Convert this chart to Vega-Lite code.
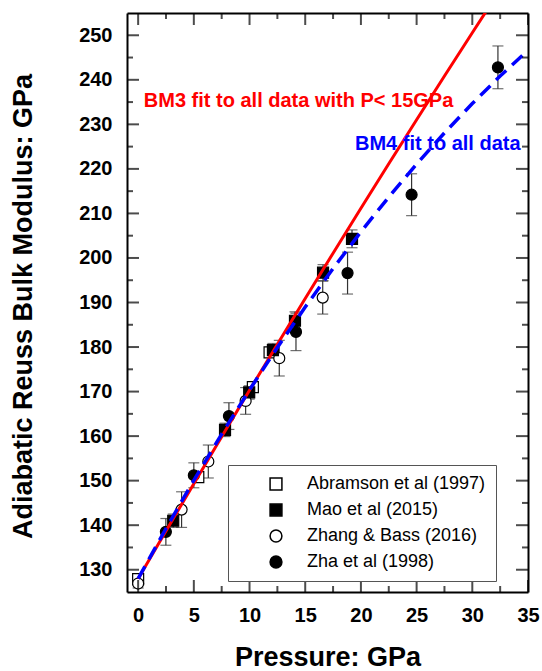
{
  "$schema": "https://vega.github.io/schema/vega-lite/v6.json",
  "width": 401,
  "height": 579,
  "autosize": {"type": "none"},
  "padding": {"left": 127, "top": 13, "right": 14, "bottom": 79},
  "background": "white",
  "config": {
    "font": "Liberation Sans",
    "view": {"stroke": null},
    "axis": {
      "grid": false,
      "domainColor": "black",
      "domainWidth": 2,
      "labelFont": "Liberation Sans",
      "labelFontSize": 20,
      "labelFontWeight": "bold",
      "labelColor": "black",
      "titleFont": "Liberation Sans",
      "titleFontSize": 27,
      "titleFontWeight": "bold",
      "titleColor": "black",
      "labelFlush": false,
      "labelOverlap": false,
      "labelBound": false
    }
  },
  "datasets": {
    "pts": [
      {"P": 0, "K": 127.9, "src": "Abramson et al (1997)", "lo": null, "hi": null},
      {"P": 5.4, "K": 150.8, "src": "Abramson et al (1997)", "lo": null, "hi": null},
      {"P": 10.3, "K": 171.0, "src": "Abramson et al (1997)", "lo": null, "hi": null},
      {"P": 11.8, "K": 178.8, "src": "Abramson et al (1997)", "lo": null, "hi": null},
      {"P": 0, "K": 126.9, "src": "Zhang & Bass (2016)", "lo": 125.9, "hi": 127.9},
      {"P": 3.9, "K": 143.5, "src": "Zhang & Bass (2016)", "lo": 139.5, "hi": 147.5},
      {"P": 6.3, "K": 154.3, "src": "Zhang & Bass (2016)", "lo": 150.6, "hi": 158.0},
      {"P": 9.65, "K": 167.9, "src": "Zhang & Bass (2016)", "lo": 164.9, "hi": 170.9},
      {"P": 12.67, "K": 177.5, "src": "Zhang & Bass (2016)", "lo": 173.5, "hi": 181.5},
      {"P": 16.57, "K": 191.1, "src": "Zhang & Bass (2016)", "lo": 187.4, "hi": 194.8},
      {"P": 3.15, "K": 141.0, "src": "Mao et al (2015)", "lo": 139.5, "hi": 142.5},
      {"P": 7.8, "K": 161.4, "src": "Mao et al (2015)", "lo": 159.9, "hi": 162.9},
      {"P": 9.97, "K": 169.8, "src": "Mao et al (2015)", "lo": 168.3, "hi": 171.3},
      {"P": 12.1, "K": 179.3, "src": "Mao et al (2015)", "lo": 177.8, "hi": 180.8},
      {"P": 14.08, "K": 185.9, "src": "Mao et al (2015)", "lo": 183.9, "hi": 187.9},
      {"P": 16.6, "K": 196.7, "src": "Mao et al (2015)", "lo": 194.9, "hi": 198.5},
      {"P": 19.2, "K": 204.3, "src": "Mao et al (2015)", "lo": 202.3, "hi": 206.3},
      {"P": 2.49, "K": 138.5, "src": "Zha et al (1998)", "lo": 135.5, "hi": 141.5},
      {"P": 5.0, "K": 151.2, "src": "Zha et al (1998)", "lo": 148.4, "hi": 154.0},
      {"P": 8.15, "K": 164.5, "src": "Zha et al (1998)", "lo": 161.5, "hi": 167.5},
      {"P": 14.17, "K": 183.4, "src": "Zha et al (1998)", "lo": 179.2, "hi": 187.6},
      {"P": 18.8, "K": 196.6, "src": "Zha et al (1998)", "lo": 191.9, "hi": 201.3},
      {"P": 24.55, "K": 214.2, "src": "Zha et al (1998)", "lo": 209.5, "hi": 218.9},
      {"P": 32.3, "K": 242.8, "src": "Zha et al (1998)", "lo": 238.0, "hi": 247.6}
    ],
    "fits": [
      {"P": 0, "K": 128.0, "fit": "BM3"},
      {"P": 2.5, "K": 138.71, "fit": "BM3"},
      {"P": 5, "K": 149.33, "fit": "BM3"},
      {"P": 7.5, "K": 159.86, "fit": "BM3"},
      {"P": 10, "K": 170.29, "fit": "BM3"},
      {"P": 12.5, "K": 180.64, "fit": "BM3"},
      {"P": 15, "K": 190.9, "fit": "BM3"},
      {"P": 17.5, "K": 201.07, "fit": "BM3"},
      {"P": 20, "K": 211.15, "fit": "BM3"},
      {"P": 22.5, "K": 221.14, "fit": "BM3"},
      {"P": 25, "K": 231.04, "fit": "BM3"},
      {"P": 27.5, "K": 240.85, "fit": "BM3"},
      {"P": 30, "K": 250.57, "fit": "BM3"},
      {"P": 32, "K": 258.28, "fit": "BM3"},
      {"P": 0, "K": 128.0, "fit": "BM4"},
      {"P": 2.5, "K": 139.26, "fit": "BM4"},
      {"P": 5, "K": 150.08, "fit": "BM4"},
      {"P": 7.5, "K": 160.46, "fit": "BM4"},
      {"P": 10, "K": 170.4, "fit": "BM4"},
      {"P": 12.5, "K": 179.9, "fit": "BM4"},
      {"P": 15, "K": 188.98, "fit": "BM4"},
      {"P": 17.5, "K": 197.64, "fit": "BM4"},
      {"P": 20, "K": 205.87, "fit": "BM4"},
      {"P": 22.5, "K": 213.68, "fit": "BM4"},
      {"P": 25, "K": 221.08, "fit": "BM4"},
      {"P": 27.5, "K": 228.08, "fit": "BM4"},
      {"P": 30, "K": 234.66, "fit": "BM4"},
      {"P": 32.5, "K": 240.84, "fit": "BM4"},
      {"P": 35, "K": 246.63, "fit": "BM4"}
    ],
    "notes": [
      {"P": 0.51, "K": 235.2, "text": "BM3 fit to all data with P< 15GPa", "fit": "BM3"},
      {"P": 19.47, "K": 225.6, "text": "BM4 fit to all data", "fit": "BM4"}
    ],
    "xt": [
      {"v": 0}, {"v": 2.5}, {"v": 5}, {"v": 7.5}, {"v": 10}, {"v": 12.5}, {"v": 15}, {"v": 17.5},
      {"v": 20}, {"v": 22.5}, {"v": 25}, {"v": 27.5}, {"v": 30}, {"v": 32.5}, {"v": 35}
    ],
    "yt": [
      {"v": 130}, {"v": 135}, {"v": 140}, {"v": 145}, {"v": 150}, {"v": 155}, {"v": 160}, {"v": 165},
      {"v": 170}, {"v": 175}, {"v": 180}, {"v": 185}, {"v": 190}, {"v": 195}, {"v": 200}, {"v": 205},
      {"v": 210}, {"v": 215}, {"v": 220}, {"v": 225}, {"v": 230}, {"v": 235}, {"v": 240}, {"v": 245}, {"v": 250}
    ]
  },
  "resolve": {"axis": {"x": "independent", "y": "independent"}},
  "layer": [
    {
      "data": {"name": "pts"},
      "transform": [{"filter": "isValid(datum.lo)"}],
      "mark": {"type": "rule", "color": "#333333", "strokeWidth": 1.2},
      "encoding": {
        "x": {
          "field": "P", "type": "quantitative",
          "scale": {"domain": [-1, 35], "nice": false, "zero": false},
          "axis": {
            "orient": "bottom",
            "values": [0, 5, 10, 15, 20, 25, 30, 35],
            "ticks": false,
            "labelPadding": 13,
            "title": "Pressure: GPa",
            "titleX": 200.5,
            "titleY": 73,
            "titleBaseline": "alphabetic"
          }
        },
        "y": {
          "field": "lo", "type": "quantitative",
          "scale": {"domain": [125, 255], "nice": false, "zero": false},
          "axis": {
            "orient": "left",
            "values": [130, 140, 150, 160, 170, 180, 190, 200, 210, 220, 230, 240, 250],
            "ticks": false,
            "labelPadding": 15,
            "title": "Adiabatic Reuss Bulk Modulus: GPa",
            "titleX": -96,
            "titleY": 293,
            "titleBaseline": "alphabetic"
          }
        },
        "y2": {"field": "hi"}
      }
    },
    {
      "data": {"name": "pts"},
      "transform": [{"filter": "isValid(datum.lo)"}],
      "mark": {"type": "tick", "orient": "horizontal", "color": "#333333", "size": 11, "thickness": 1.2},
      "encoding": {
        "x": {"field": "P", "type": "quantitative", "axis": null},
        "y": {"field": "lo", "type": "quantitative", "axis": null}
      }
    },
    {
      "data": {"name": "pts"},
      "transform": [{"filter": "isValid(datum.hi)"}],
      "mark": {"type": "tick", "orient": "horizontal", "color": "#333333", "size": 11, "thickness": 1.2},
      "encoding": {
        "x": {"field": "P", "type": "quantitative", "axis": null},
        "y": {"field": "hi", "type": "quantitative", "axis": null}
      }
    },
    {
      "data": {"name": "pts"},
      "mark": {"type": "point", "stroke": "black", "strokeWidth": 1.2, "opacity": 1, "size": 121},
      "encoding": {
        "x": {"field": "P", "type": "quantitative", "axis": null},
        "y": {"field": "K", "type": "quantitative", "axis": null},
        "shape": {
          "field": "src", "type": "nominal",
          "scale": {"domain": ["Abramson et al (1997)", "Mao et al (2015)", "Zhang & Bass (2016)", "Zha et al (1998)"], "range": ["square", "square", "circle", "circle"]},
          "legend": {
            "orient": "none",
            "legendX": 101,
            "legendY": 452,
            "title": null,
            "padding": 10,
            "strokeColor": "#555555",
            "fillColor": "white",
            "labelFont": "Liberation Sans",
            "labelFontSize": 18,
            "labelColor": "black",
            "labelLimit": 400,
            "labelExpr": "datum.label + '     '",
            "symbolSize": 140,
            "symbolOffset": 29,
            "labelOffset": 22,
            "rowPadding": 8,
            "encode": {"symbols": {"update": {"stroke": {"value": "black"}, "strokeWidth": {"value": 1.2}}}}
          }
        },
        "fill": {
          "field": "src", "type": "nominal",
          "scale": {"domain": ["Abramson et al (1997)", "Mao et al (2015)", "Zhang & Bass (2016)", "Zha et al (1998)"], "range": ["white", "black", "white", "black"]},
          "legend": {
            "orient": "none",
            "legendX": 101,
            "legendY": 452,
            "title": null,
            "padding": 10,
            "strokeColor": "#555555",
            "fillColor": "white",
            "labelFont": "Liberation Sans",
            "labelFontSize": 18,
            "labelColor": "black",
            "labelLimit": 400,
            "labelExpr": "datum.label + '     '",
            "symbolSize": 140,
            "symbolOffset": 29,
            "labelOffset": 22,
            "rowPadding": 8,
            "encode": {"symbols": {"update": {"stroke": {"value": "black"}, "strokeWidth": {"value": 1.2}}}}
          }
        }
      }
    },
    {
      "data": {"name": "fits"},
      "transform": [{"filter": "datum.fit === 'BM3'"}],
      "mark": {"type": "line", "color": "#ff0000", "strokeWidth": 3, "clip": true},
      "encoding": {
        "x": {
          "field": "P", "type": "quantitative",
          "axis": {"orient": "top", "values": [], "ticks": false, "labels": false, "domain": true, "title": null}
        },
        "y": {
          "field": "K", "type": "quantitative",
          "axis": {"orient": "right", "values": [], "ticks": false, "labels": false, "domain": true, "title": null}
        }
      }
    },
    {
      "data": {"name": "fits"},
      "transform": [{"filter": "datum.fit === 'BM4'"}],
      "mark": {"type": "line", "color": "#0000ff", "strokeWidth": 3.5, "strokeDash": [14, 8], "clip": true},
      "encoding": {
        "x": {"field": "P", "type": "quantitative", "axis": null},
        "y": {"field": "K", "type": "quantitative", "axis": null}
      }
    },
    {
      "data": {"name": "notes"},
      "mark": {"type": "text", "align": "left", "baseline": "middle", "font": "Liberation Sans", "fontSize": 20, "fontWeight": "bold"},
      "encoding": {
        "x": {"field": "P", "type": "quantitative", "axis": null},
        "y": {"field": "K", "type": "quantitative", "axis": null},
        "text": {"field": "text"},
        "color": {"field": "fit", "type": "nominal", "scale": {"domain": ["BM3", "BM4"], "range": ["#ff0000", "#0000ff"]}, "legend": null}
      }
    },
    {
      "data": {"name": "xt"},
      "transform": [{"filter": "datum.v % 5 === 0"}],
      "mark": {"type": "tick", "orient": "vertical", "color": "black", "size": 24, "thickness": 2, "clip": true},
      "encoding": {
        "x": {"field": "v", "type": "quantitative", "axis": null},
        "y": {"datum": 125, "type": "quantitative", "axis": null}
      }
    },
    {
      "data": {"name": "xt"},
      "transform": [{"filter": "datum.v % 5 !== 0"}],
      "mark": {"type": "tick", "orient": "vertical", "color": "black", "size": 12, "thickness": 2, "clip": true},
      "encoding": {
        "x": {"field": "v", "type": "quantitative", "axis": null},
        "y": {"datum": 125, "type": "quantitative", "axis": null}
      }
    },
    {
      "data": {"name": "xt"},
      "transform": [{"filter": "datum.v % 5 === 0"}],
      "mark": {"type": "tick", "orient": "vertical", "color": "black", "size": 24, "thickness": 2, "clip": true},
      "encoding": {
        "x": {"field": "v", "type": "quantitative", "axis": null},
        "y": {"datum": 255, "type": "quantitative", "axis": null}
      }
    },
    {
      "data": {"name": "xt"},
      "transform": [{"filter": "datum.v % 5 !== 0"}],
      "mark": {"type": "tick", "orient": "vertical", "color": "black", "size": 12, "thickness": 2, "clip": true},
      "encoding": {
        "x": {"field": "v", "type": "quantitative", "axis": null},
        "y": {"datum": 255, "type": "quantitative", "axis": null}
      }
    },
    {
      "data": {"name": "yt"},
      "transform": [{"filter": "datum.v % 10 === 0"}],
      "mark": {"type": "tick", "orient": "horizontal", "color": "black", "size": 24, "thickness": 2, "clip": true},
      "encoding": {
        "y": {"field": "v", "type": "quantitative", "axis": null},
        "x": {"datum": -1, "type": "quantitative", "axis": null}
      }
    },
    {
      "data": {"name": "yt"},
      "transform": [{"filter": "datum.v % 10 !== 0"}],
      "mark": {"type": "tick", "orient": "horizontal", "color": "black", "size": 12, "thickness": 2, "clip": true},
      "encoding": {
        "y": {"field": "v", "type": "quantitative", "axis": null},
        "x": {"datum": -1, "type": "quantitative", "axis": null}
      }
    },
    {
      "data": {"name": "yt"},
      "transform": [{"filter": "datum.v % 10 === 0"}],
      "mark": {"type": "tick", "orient": "horizontal", "color": "black", "size": 24, "thickness": 2, "clip": true},
      "encoding": {
        "y": {"field": "v", "type": "quantitative", "axis": null},
        "x": {"datum": 35, "type": "quantitative", "axis": null}
      }
    },
    {
      "data": {"name": "yt"},
      "transform": [{"filter": "datum.v % 10 !== 0"}],
      "mark": {"type": "tick", "orient": "horizontal", "color": "black", "size": 12, "thickness": 2, "clip": true},
      "encoding": {
        "y": {"field": "v", "type": "quantitative", "axis": null},
        "x": {"datum": 35, "type": "quantitative", "axis": null}
      }
    }
  ]
}
